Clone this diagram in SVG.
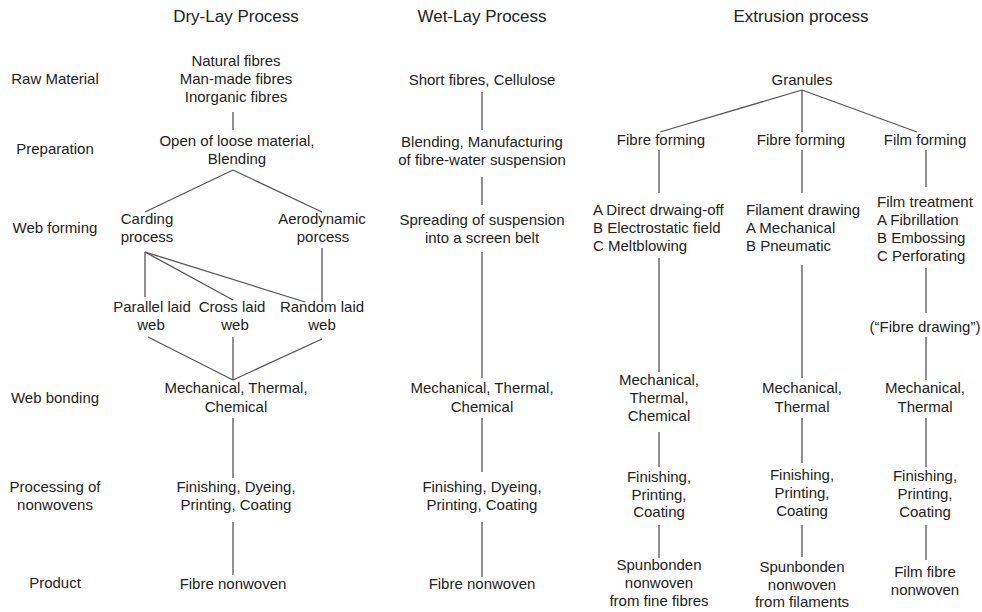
<svg xmlns="http://www.w3.org/2000/svg" width="982" height="612" viewBox="0 0 982 612">
<style>
text{font-family:"Liberation Sans",Arial,sans-serif;font-size:15px;fill:#222;text-anchor:middle}
.t{font-size:17px}
.l{text-anchor:start}
#connectors line{stroke:#555;stroke-width:1.3;fill:none}
</style>
<rect width="982" height="612" fill="#fff"/>
<g id="titles">
<text class="t" x="236" y="22">Dry-Lay Process</text>
<text class="t" x="482" y="22">Wet-Lay Process</text>
<text class="t" x="801" y="22">Extrusion process</text>
</g>
<g id="row-labels">
<text x="55" y="83.5">Raw Material</text>
<text x="55" y="154">Preparation</text>
<text x="55" y="233">Web forming</text>
<text x="55" y="403">Web bonding</text>
<text x="55" y="492">Processing of</text>
<text x="55" y="510">nonwovens</text>
<text x="55" y="588">Product</text>
</g>
<g id="connectors">
<line x1="233" y1="112" x2="233" y2="130"/>
<line x1="233" y1="170" x2="145" y2="212"/>
<line x1="233" y1="170" x2="322" y2="212"/>
<line x1="145" y1="252" x2="145" y2="297"/>
<line x1="145" y1="252" x2="233" y2="300"/>
<line x1="145" y1="252" x2="305" y2="302"/>
<line x1="322" y1="248" x2="322" y2="302"/>
<line x1="148" y1="337" x2="233" y2="380"/>
<line x1="233" y1="337" x2="233" y2="380"/>
<line x1="322" y1="339" x2="233" y2="380"/>
<line x1="233" y1="418" x2="233" y2="478"/>
<line x1="233" y1="522" x2="233" y2="575"/>
<line x1="482" y1="92" x2="482" y2="130"/>
<line x1="482" y1="177" x2="482" y2="205"/>
<line x1="482" y1="252" x2="482" y2="378"/>
<line x1="482" y1="418" x2="482" y2="472"/>
<line x1="482" y1="522" x2="482" y2="577"/>
<line x1="802" y1="90" x2="660" y2="132"/>
<line x1="802" y1="90" x2="802" y2="132"/>
<line x1="802" y1="90" x2="917" y2="132"/>
<line x1="659" y1="150" x2="659" y2="193"/>
<line x1="802" y1="150" x2="802" y2="193"/>
<line x1="926" y1="150" x2="926" y2="187"/>
<line x1="659" y1="258" x2="659" y2="372"/>
<line x1="802" y1="265" x2="802" y2="378"/>
<line x1="926" y1="268" x2="926" y2="313"/>
<line x1="926" y1="337" x2="926" y2="380"/>
<line x1="659" y1="432" x2="659" y2="467"/>
<line x1="802" y1="418" x2="802" y2="463"/>
<line x1="926" y1="418" x2="926" y2="467"/>
<line x1="659" y1="525" x2="659" y2="558"/>
<line x1="802" y1="525" x2="802" y2="557"/>
<line x1="926" y1="525" x2="926" y2="560"/>
</g>
<g id="dry-raw"><text x="236" y="65.5">Natural fibres</text><text x="236" y="83.5">Man-made fibres</text><text x="236" y="101.5">Inorganic fibres</text></g>
<g id="dry-prep"><text x="237" y="146">Open of loose material,</text><text x="237" y="164">Blending</text></g>
<g id="dry-carding"><text x="147" y="224">Carding</text><text x="147" y="242">process</text></g>
<g id="dry-aero"><text x="322" y="224">Aerodynamic</text><text x="323" y="242">porcess</text></g>
<g id="dry-parallel"><text x="152" y="312">Parallel laid</text><text x="151" y="330">web</text></g>
<g id="dry-cross"><text x="232" y="312">Cross laid</text><text x="235" y="330">web</text></g>
<g id="dry-random"><text x="322" y="312">Random laid</text><text x="322" y="330">web</text></g>
<g id="dry-bond"><text x="236" y="393">Mechanical, Thermal,</text><text x="236" y="411.5">Chemical</text></g>
<g id="dry-finish"><text x="236" y="492">Finishing, Dyeing,</text><text x="236" y="510">Printing, Coating</text></g>
<g id="dry-product"><text x="233" y="588.5">Fibre nonwoven</text></g>
<g id="wet-raw"><text x="482" y="85">Short fibres, Cellulose</text></g>
<g id="wet-prep"><text x="482" y="147">Blending, Manufacturing</text><text x="482" y="165">of fibre-water suspension</text></g>
<g id="wet-form"><text x="482" y="225">Spreading of suspension</text><text x="482" y="243">into a screen belt</text></g>
<g id="wet-bond"><text x="482" y="393">Mechanical, Thermal,</text><text x="482" y="411.5">Chemical</text></g>
<g id="wet-finish"><text x="482" y="492">Finishing, Dyeing,</text><text x="482" y="510">Printing, Coating</text></g>
<g id="wet-product"><text x="482" y="589">Fibre nonwoven</text></g>
<g id="ext-granules"><text x="802" y="85">Granules</text></g>
<g id="ext-fibre1"><text x="661" y="145">Fibre forming</text></g>
<g id="ext-fibre2"><text x="801" y="145">Fibre forming</text></g>
<g id="ext-film"><text x="925" y="145">Film forming</text></g>
<g id="ext-a"><text class="l" x="593" y="215">A Direct drwaing-off</text><text class="l" x="593" y="233">B Electrostatic field</text><text class="l" x="593" y="251">C Meltblowing</text></g>
<g id="ext-b"><text class="l" x="746" y="215">Filament drawing</text><text class="l" x="746" y="233">A Mechanical</text><text class="l" x="746" y="251">B Pneumatic</text></g>
<g id="ext-c"><text class="l" x="877" y="207">Film treatment</text><text class="l" x="877" y="225">A Fibrillation</text><text class="l" x="877" y="243">B Embossing</text><text class="l" x="877" y="261">C Perforating</text></g>
<g id="ext-drawing"><text x="925" y="331.5">(“Fibre drawing”)</text></g>
<g id="ext-bond1"><text x="659" y="385">Mechanical,</text><text x="659" y="403">Thermal,</text><text x="659" y="421">Chemical</text></g>
<g id="ext-bond2"><text x="802" y="393">Mechanical,</text><text x="802" y="411.5">Thermal</text></g>
<g id="ext-bond3"><text x="925" y="393">Mechanical,</text><text x="925" y="411.5">Thermal</text></g>
<g id="ext-finish1"><text x="659" y="481.5">Finishing,</text><text x="659" y="499.5">Printing,</text><text x="659" y="517">Coating</text></g>
<g id="ext-finish2"><text x="802" y="480">Finishing,</text><text x="802" y="498">Printing,</text><text x="802" y="516">Coating</text></g>
<g id="ext-finish3"><text x="925" y="481">Finishing,</text><text x="925" y="499">Printing,</text><text x="925" y="517">Coating</text></g>
<g id="ext-product1"><text x="659" y="570">Spunbonden</text><text x="659" y="588">nonwoven</text><text x="659" y="606">from fine fibres</text></g>
<g id="ext-product2"><text x="802" y="571.5">Spunbonden</text><text x="802" y="589.5">nonwoven</text><text x="802" y="607">from filaments</text></g>
<g id="ext-product3"><text x="925" y="577">Film fibre</text><text x="925" y="595">nonwoven</text></g>
</svg>
